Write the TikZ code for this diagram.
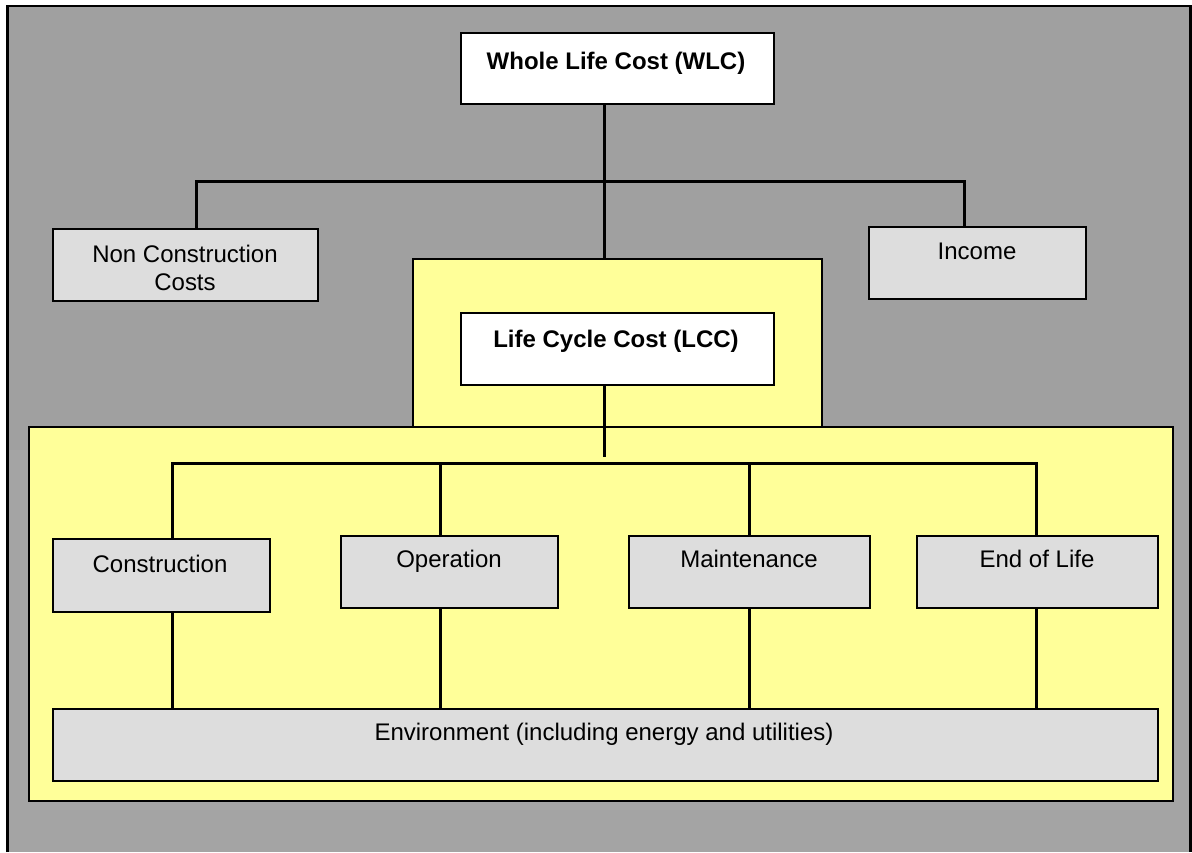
\documentclass[tikz,border=0pt]{standalone}
\usepackage{fontspec}
\setmainfont{Liberation Sans}
\definecolor{bgA}{HTML}{A0A0A0}
\definecolor{bgB}{HTML}{A4A4A4}
\definecolor{ylw}{HTML}{FFFF99}
\definecolor{boxg}{HTML}{DDDDDD}
\begin{document}
\begin{tikzpicture}[x=1pt,y=-1pt,
  box/.style={draw=black, line width=2pt, rectangle, inner sep=0pt, anchor=north west},
  gbox/.style={box, fill=boxg},
  wbox/.style={box, fill=white},
  ybox/.style={box, fill=ylw},
  lbl/.style={font=\fontsize{24}{28}\selectfont, inner sep=0pt, anchor=base},
  blbl/.style={lbl, font=\fontsize{24}{28}\selectfont\bfseries},
  conn/.style={line width=3pt}]
\useasboundingbox (0,0) rectangle (1192,852);
\fill[white] (0,0) rectangle (1192,852);
\fill[bgA] (7,6) rectangle (1190,852);
\fill[bgB] (9,450) rectangle (1189,852);
\draw[line width=2.5pt] (7.5,852) -- (7.5,6) -- (1190.5,6) -- (1190.5,852);

% boxes
\node[wbox, minimum width=313pt, minimum height=71pt] (wlc) at (460,32) {};
\node[gbox, minimum width=265pt, minimum height=72pt] (ncc) at (52,228) {};
\node[gbox, minimum width=217pt, minimum height=72pt] (inc) at (868,226) {};
\node[ybox, minimum width=409pt, minimum height=168pt] (lccY) at (412,258) {};
\node[ybox, minimum width=1144pt, minimum height=374pt] (bigY) at (28,426) {};
\node[wbox, minimum width=313pt, minimum height=72pt] (lcc) at (460,312) {};
\node[gbox, minimum width=217pt, minimum height=73pt] (con) at (52,538) {};
\node[gbox, minimum width=217pt, minimum height=72pt] (ope) at (340,535) {};
\node[gbox, minimum width=241pt, minimum height=72pt] (mai) at (628,535) {};
\node[gbox, minimum width=241pt, minimum height=72pt] (eol) at (916,535) {};
\node[gbox, minimum width=1105pt, minimum height=72pt] (env) at (52,708) {};

% labels
\node[blbl] (wlcT) at (616,69) {Whole Life Cost (WLC)};
\node[lbl] (nccT1) at (185,262) {Non Construction};
\node[lbl] (nccT2) at (185,290) {Costs};
\node[lbl] (incT) at (977,259) {Income};
\node[blbl] (lccT) at (616,347) {Life Cycle Cost (LCC)};
\node[lbl] (conT) at (160,572) {Construction};
\node[lbl] (opeT) at (449,567) {Operation};
\node[lbl] (maiT) at (749,567) {Maintenance};
\node[lbl] (eolT) at (1037,567) {End of Life};
\node[lbl] (envT) at (604,740) {Environment (including energy and utilities)};

% connector coordinates
\coordinate (j1) at (604,181);
\coordinate (h1L) at (196,181);
\coordinate (h1R) at (964,181);
\coordinate (j2) at (604,457);
\coordinate (h2L) at (172,463);
\coordinate (h2R) at (1036,463);
\coordinate (x2) at (440,463);
\coordinate (x3) at (749,463);

\draw[conn] (wlc.south -| j1) -- (lccY.north -| j1);
\draw[conn] (ncc.north -| h1L) -- (h1L) -- (h1R) -- (inc.north -| h1R);
\draw[conn] (lcc.south -| j2) -- (j2);
\draw[conn] (con.north -| h2L) -- (h2L) -- (h2R) -- (eol.north -| h2R);
\draw[conn] (x2) -- (ope.north -| x2);
\draw[conn] (x3) -- (mai.north -| x3);
\draw[conn] (con.south -| h2L) -- (env.north -| h2L);
\draw[conn] (ope.south -| x2) -- (env.north -| x2);
\draw[conn] (mai.south -| x3) -- (env.north -| x3);
\draw[conn] (eol.south -| h2R) -- (env.north -| h2R);
\end{tikzpicture}
\end{document}
